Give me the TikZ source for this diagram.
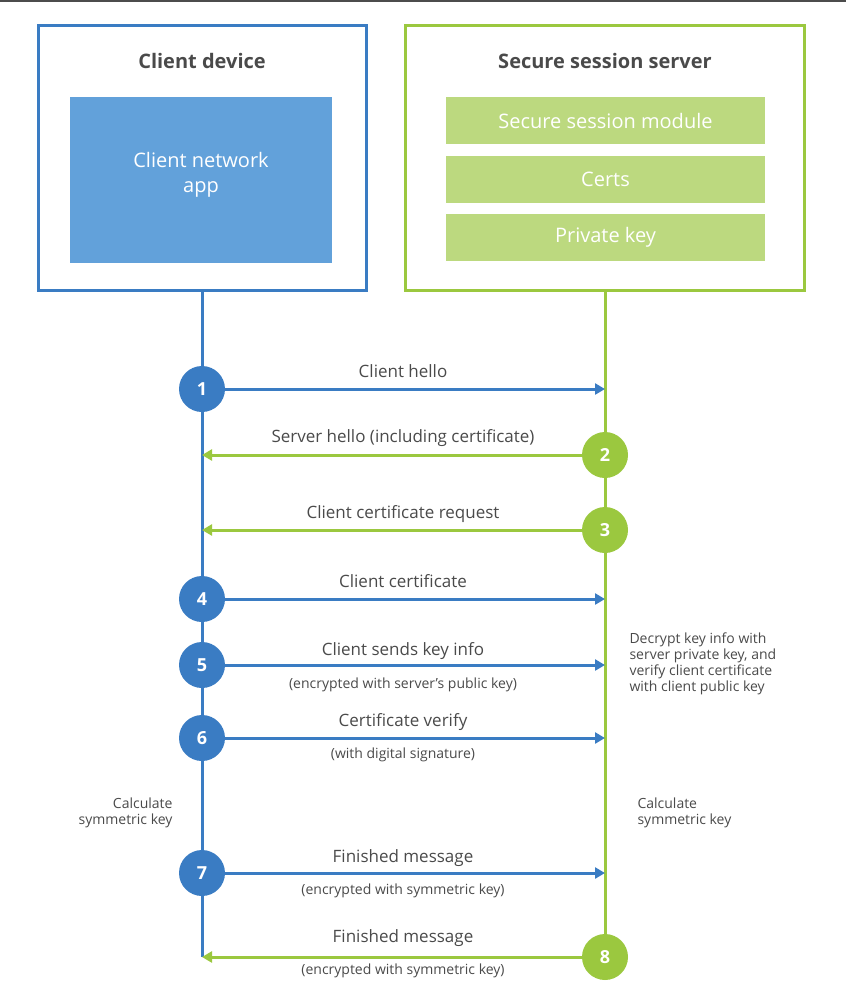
\documentclass[tikz,border=0pt]{standalone}
\usepackage{fontspec}
\setmainfont{Open Sans}
\usetikzlibrary{arrows.meta}
\definecolor{cblue}{HTML}{3A7CC3}
\definecolor{cbluefill}{HTML}{62A1DA}
\definecolor{cgreen}{HTML}{9BC83F}
\definecolor{cgreenfill}{HTML}{BCD97F}
\definecolor{ctext}{HTML}{4A4A4A}

\begin{document}
\begin{tikzpicture}[x=1pt,y=-1pt,font=\fontsize{17}{20}\selectfont,text=ctext]
    \tikzset{
        frame/.style={draw=#1,line width=3pt,minimum height=265pt,inner sep=0pt},
        part/.style={fill=#1,text=white,inner sep=0pt,align=center,
            font=\fontsize{20}{25}\selectfont},
        title/.style={font=\bfseries\fontsize{20}{24}\selectfont},
        num/.style={circle,fill=#1,text=white,minimum size=46pt,inner sep=0pt,
            font=\bfseries\fontsize{18}{20}\selectfont},
        life/.style={draw=#1,line width=3pt},
        msg/.style={draw=#1,line width=3pt,-{Triangle[length=10pt,width=11pt]}},
        sub/.style={font=\fontsize{14}{16}\selectfont},
        note/.style={font=\fontsize{14}{16}\selectfont}
    }

    \useasboundingbox (0,0) rectangle (846,1002);
    \fill[black!70] (0,0) rectangle (846,2);

    \node[frame=cblue,minimum width=328pt] (client) at (202,158) {};
    \node[frame=cgreen,minimum width=399pt] (server) at (605,158) {};
    \node[title] (ctitle) at (202,61) {Client device};
    \node[title] (stitle) at (605,61) {Secure session server};

    \node[part=cbluefill,minimum width=262pt,minimum height=166pt,text depth=15pt] (app)
        at (201,180) {Client network\\app};
    \node[part=cgreenfill,minimum width=319pt,minimum height=47pt] (module) at (605.5,120.5)
        {Secure session module};
    \node[part=cgreenfill,minimum width=319pt,minimum height=47pt] (certs) at (605.5,179.5)
        {Certs};
    \node[part=cgreenfill,minimum width=319pt,minimum height=47pt] (pkey) at (605.5,237.5)
        {Private key};

    \coordinate (cend) at (202,957);
    \coordinate (send) at (605,957);
    \draw[life=cblue] (client.south) -- (cend);
    \draw[life=cgreen] (server.south) -- (send);

    \node[num=cblue] (n1) at (202,389) {1};
    \node[num=cgreen] (n2) at (605,455) {2};
    \node[num=cgreen] (n3) at (605,530) {3};
    \node[num=cblue] (n4) at (202,599) {4};
    \node[num=cblue] (n5) at (202,665) {5};
    \node[num=cblue] (n6) at (202,738) {6};
    \node[num=cblue] (n7) at (202,873) {7};
    \node[num=cgreen] (n8) at (605,957) {8};

    \coordinate (e1) at (605,389);
    \coordinate (e2) at (202,455);
    \coordinate (e3) at (202,530);
    \coordinate (e4) at (605,599);
    \coordinate (e5) at (605,665);
    \coordinate (e6) at (605,738);
    \coordinate (e7) at (605,873);
    \coordinate (e8) at (202,957);

    \draw[msg=cblue] (n1) -- (e1);
    \draw[msg=cgreen] (n2) -- (e2);
    \draw[msg=cgreen] (n3) -- (e3);
    \draw[msg=cblue] (n4) -- (e4);
    \draw[msg=cblue] (n5) -- (e5);
    \draw[msg=cblue] (n6) -- (e6);
    \draw[msg=cblue] (n7) -- (e7);
    \draw[msg=cgreen] (n8) -- (e8);

    \node (m1) at (403,371) {Client hello};
    \node (m2) at (403,438) {Server hello (including certificate)};
    \node (m3) at (403,514) {Client certificate request};
    \node (m4) at (403,581) {Client certificate};
    \node (m5) at (403,651) {Client sends key info};
    \node[sub] (m5s) at (403,685) {(encrypted with server’s public key)};
    \node (m6) at (403,722) {Certificate verify};
    \node[sub] (m6s) at (403,755) {(with digital signature)};
    \node (m7) at (403,858) {Finished message};
    \node[sub] (m7s) at (403,891) {(encrypted with symmetric key)};
    \node (m8) at (403,938) {Finished message};
    \node[sub] (m8s) at (403,971) {(encrypted with symmetric key)};

    \node[note,anchor=west,align=left] (decrypt) at (626,664)
        {Decrypt key info with\\server private key, and\\verify client certificate\\with client public key};
    \node[note,anchor=east,align=right] (ccalc) at (176,813) {Calculate\\symmetric key};
    \node[note,anchor=west,align=left] (scalc) at (634,813) {Calculate\\symmetric key};
\end{tikzpicture}
\end{document}
